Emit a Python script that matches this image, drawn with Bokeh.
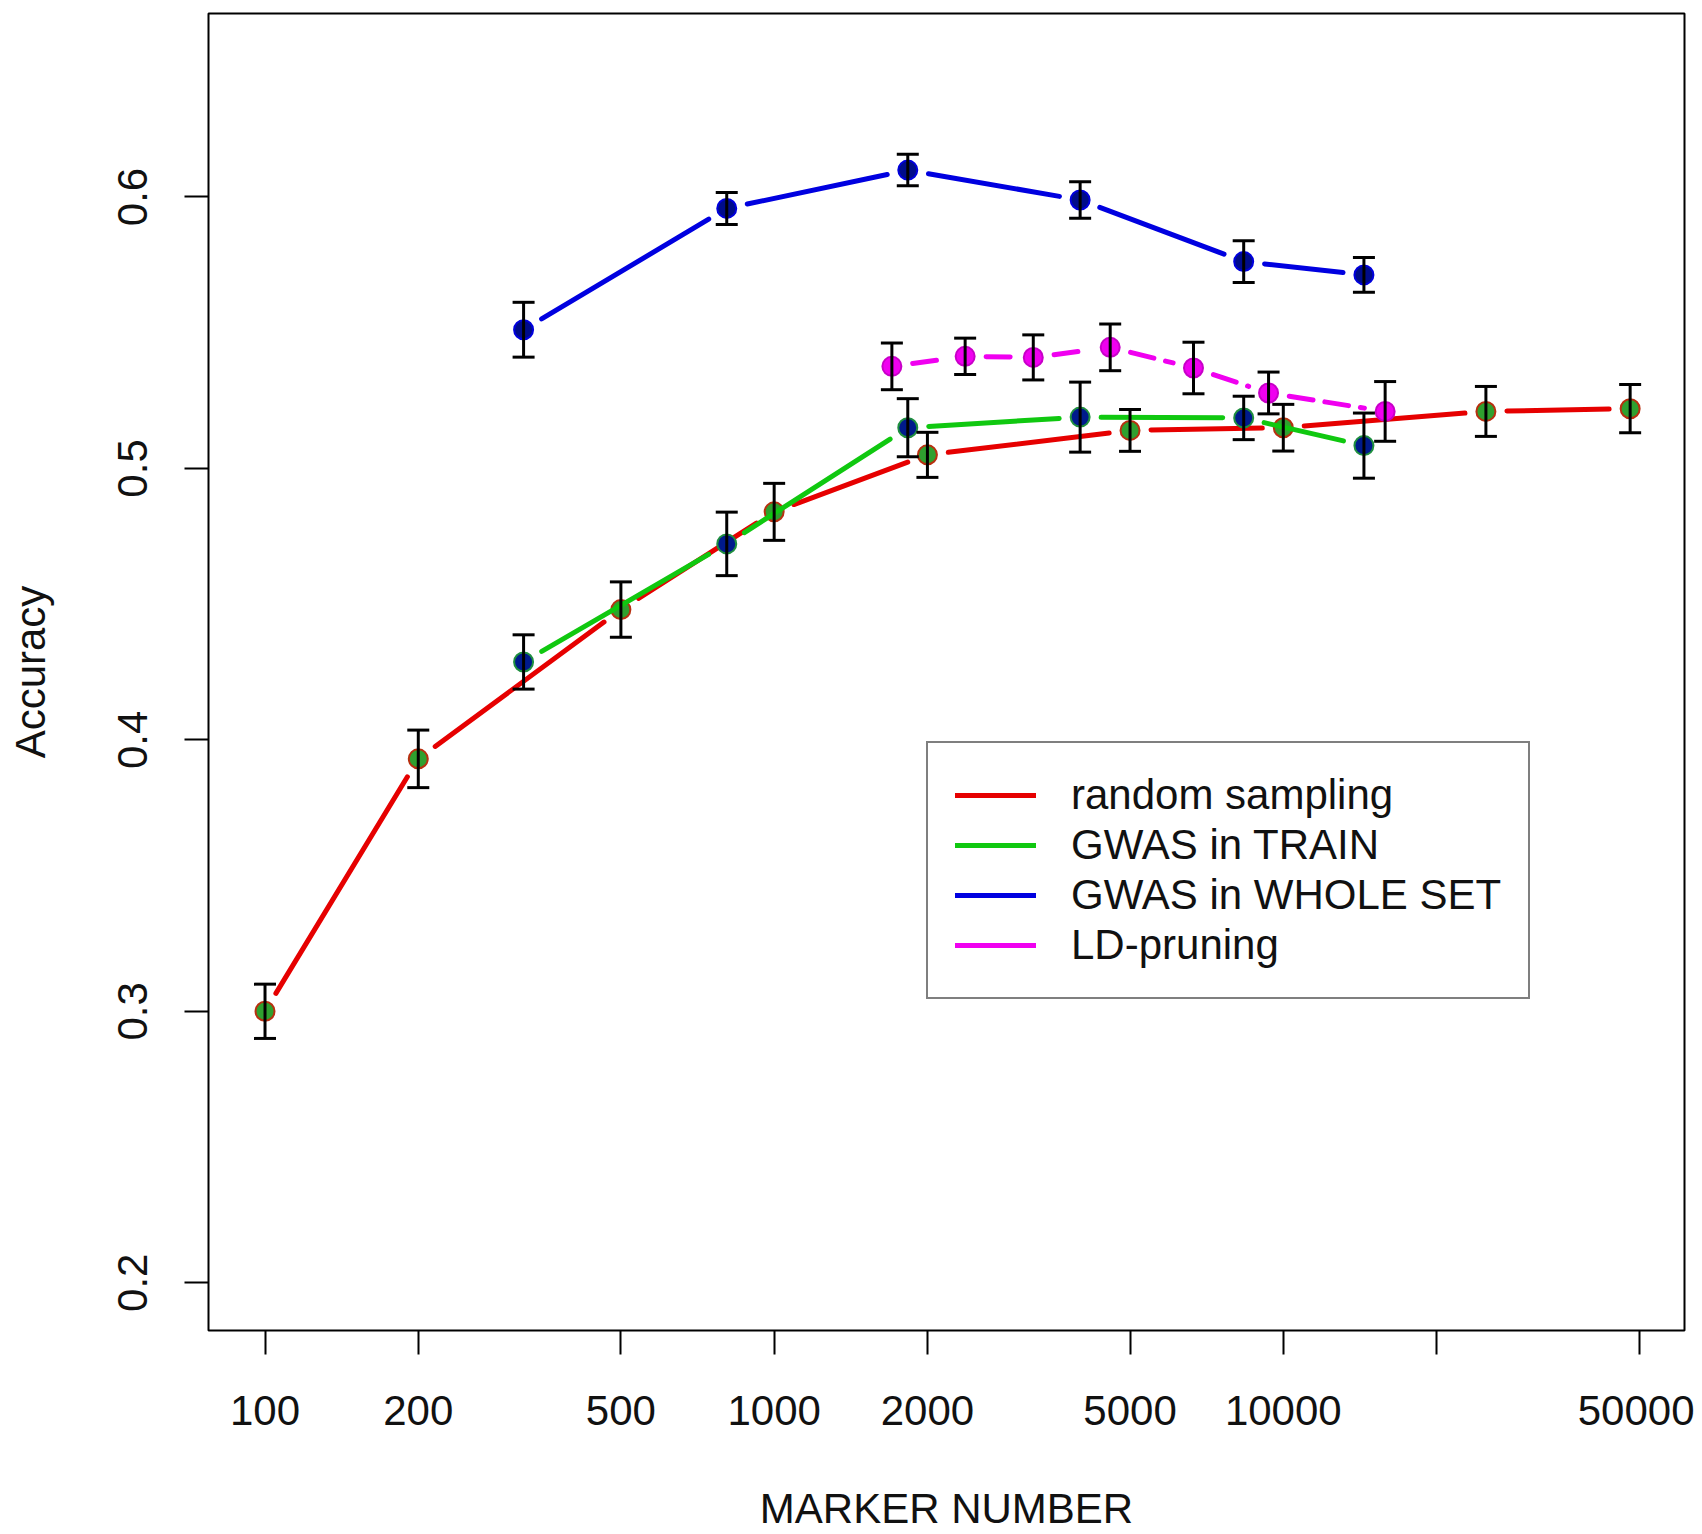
import math
from bokeh.plotting import figure
from bokeh.models import Range1d, FixedTicker, Legend, LegendItem
from bokeh.embed import file_html
from bokeh.resources import INLINE

# ---------------- data ----------------
x_ticks = [100, 200, 500, 1000, 2000, 5000, 10000, 20000, 50000]
x_tick_labels = ["100", "200", "500", "1000", "2000", "5000", "10000", "", "50000"]
y_ticks = [0.2, 0.3, 0.4, 0.5, 0.6]
y_tick_labels = ["0.2", "0.3", "0.4", "0.5", "0.6"]

series_names = ["random sampling", "GWAS in TRAIN", "GWAS in WHOLE SET", "LD-pruning"]

rs_x = [100, 200, 500, 1000, 2000, 5000, 10000, 25000, 48000]
rs_y = [0.300, 0.393, 0.448, 0.484, 0.505, 0.514, 0.515, 0.521, 0.522]
rs_err = [0.0100, 0.0106, 0.0102, 0.0105, 0.0083, 0.0077, 0.0086, 0.0092, 0.0089]

gt_x = [322, 807, 1830, 3990, 8360, 14400]
gt_y = [0.4287, 0.4722, 0.5150, 0.5189, 0.5186, 0.5084]
gt_err = [0.0100, 0.0117, 0.0107, 0.0129, 0.0080, 0.0120]

gw_x = [322, 807, 1830, 3990, 8360, 14400]
gw_y = [0.5511, 0.5958, 0.6099, 0.5989, 0.5762, 0.5713]
gw_err = [0.0101, 0.0059, 0.0058, 0.0067, 0.0077, 0.0064]

ld_x = [1703, 2372, 3228, 4571, 6662, 9355, 15850]
ld_y = [0.5376, 0.5413, 0.5409, 0.5446, 0.5370, 0.5278, 0.5210]
ld_err = [0.0086, 0.0067, 0.0083, 0.0086, 0.0095, 0.0077, 0.0110]

# ---------------- layout ----------------
LX0, LX1 = 1.889, 4.788
Y0, Y1 = 0.1824, 0.6676
W, H = 1694, 1534
BL, BR, BT, BB = 208, 10, 13, 201
FRAME_W, FRAME_H = W - BL - BR, H - BT - BB
FONT = "Liberation Sans"


def gapped(xs, ys, gap=21.0):
    """Segments between consecutive points, leaving a gap around each point (R type='b')."""
    sx = FRAME_W / (LX1 - LX0)
    sy = FRAME_H / (Y1 - Y0)
    x0, y0, x1, y1 = [], [], [], []
    for i in range(len(xs) - 1):
        a, b = math.log10(xs[i]), math.log10(xs[i + 1])
        dy = ys[i + 1] - ys[i]
        L = math.hypot((b - a) * sx, dy * sy)
        if L <= 2 * gap:
            continue
        t = gap / L
        x0.append(10 ** (a + t * (b - a)))
        y0.append(ys[i] + t * dy)
        x1.append(10 ** (b - t * (b - a)))
        y1.append(ys[i + 1] - t * dy)
    return x0, y0, x1, y1


p = figure(width=W, height=H, x_axis_type="log",
           x_range=Range1d(10 ** LX0, 10 ** LX1), y_range=Range1d(Y0, Y1),
           output_backend="svg", toolbar_location=None,
           min_border_left=BL, min_border_right=BR, min_border_top=BT, min_border_bottom=BB)

p.xgrid.grid_line_color = None
p.ygrid.grid_line_color = None
p.outline_line_color = "black"
p.outline_line_width = 2
p.outline_line_alpha = 1.0
p.background_fill_color = "white"
p.border_fill_color = "white"

p.xaxis.ticker = FixedTicker(ticks=x_ticks, minor_ticks=[])
p.xaxis.major_label_overrides = dict(zip(x_ticks, x_tick_labels))
p.yaxis.ticker = FixedTicker(ticks=y_ticks, minor_ticks=[])
p.yaxis.major_label_overrides = dict(zip(y_ticks, y_tick_labels))
p.yaxis.major_label_orientation = "vertical"

for ax in (p.xaxis, p.yaxis):
    ax.axis_line_color = None
    ax.major_tick_in = 0
    ax.major_tick_out = 24
    ax.major_tick_line_width = 2
    ax.major_tick_line_color = "black"
    ax.minor_tick_line_color = None
    ax.major_label_text_font = FONT
    ax.major_label_text_font_size = "42px"
    ax.major_label_text_color = "#111111"
    ax.axis_label_text_font = FONT
    ax.axis_label_text_font_size = "42px"
    ax.axis_label_text_font_style = "normal"
    ax.axis_label_text_color = "#111111"

p.xaxis.axis_label = "MARKER NUMBER"
p.yaxis.axis_label = "Accuracy"
p.xaxis.major_label_standoff = 41
p.xaxis.axis_label_standoff = 57
p.yaxis.major_label_standoff = 37
p.yaxis.axis_label_standoff = 62

# colours
RED, GREEN, BLUE, MAG = "#E60000", "#10C810", "#0000E0", "#F000F0"

series = [
    (rs_x, rs_y, rs_err, RED, None, "#2FA02F", "#B83010"),
    (gt_x, gt_y, gt_err, GREEN, None, "#001A8C", "#1F8F3F"),
    (gw_x, gw_y, gw_err, BLUE, None, "#000C8A", "#0000DD"),
    (ld_x, ld_y, ld_err, MAG, "24 12", "#F000F0", "#C800C8"),
]

for xs, ys, _, col, dash, mfill, mline in series:
    x0, y0, x1, y1 = gapped(xs, ys)
    kw = dict(line_color=col, line_width=5, line_cap="round")
    if dash:
        kw["line_dash"] = dash
    p.segment(x0=x0, y0=y0, x1=x1, y1=y1, **kw)
    p.scatter(xs, ys, marker="circle", size=19, fill_color=mfill,
              line_color=mline, line_width=2)

# error bars on top
for xs, ys, errs, *_ in series:
    lo = [y - e for y, e in zip(ys, errs)]
    hi = [y + e for y, e in zip(ys, errs)]
    p.segment(x0=xs, y0=lo, x1=xs, y1=hi, line_color="black", line_width=3)
    p.scatter(xs, lo, marker="dash", size=22, line_color="black", line_width=3)
    p.scatter(xs, hi, marker="dash", size=22, line_color="black", line_width=3)

# legend (dummy renderers with solid lines)
items = []
for name, col in zip(series_names, [RED, GREEN, BLUE, MAG]):
    r = p.line([float("nan")], [float("nan")], line_color=col, line_width=5, line_cap="round")
    items.append(LegendItem(label=name, renderers=[r]))

legend = Legend(items=items, location=(718, 331), margin=0, padding=27,
                glyph_width=81, glyph_height=50, label_height=50, spacing=0,
                label_standoff=35, label_text_font=FONT, label_text_font_size="42px",
                label_text_color="#111111", border_line_color="black",
                border_line_width=2, background_fill_color="white",
                background_fill_alpha=1.0)
p.add_layout(legend)

open("out.html", "w").write(file_html(p, INLINE))
